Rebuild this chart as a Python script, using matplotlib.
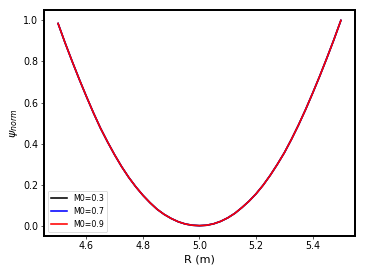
import matplotlib
matplotlib.use("Agg")
import matplotlib.pyplot as plt

R = [4.500, 4.525, 4.550, 4.575, 4.600, 4.625, 4.650, 4.675, 4.700, 4.725,
     4.750, 4.775, 4.800, 4.825, 4.850, 4.875, 4.900, 4.925, 4.950, 4.975,
     5.000, 5.025, 5.050, 5.075, 5.100, 5.125, 5.150, 5.175, 5.200, 5.225,
     5.250, 5.275, 5.300, 5.325, 5.350, 5.375, 5.400, 5.425, 5.450, 5.475, 5.500]
psi_m03 = [0.985, 0.890, 0.800, 0.713, 0.630, 0.550, 0.475, 0.408, 0.345, 0.287,
           0.235, 0.189, 0.148, 0.112, 0.080, 0.055, 0.035, 0.019, 0.008, 0.002,
           0.000, 0.002, 0.009, 0.021, 0.038, 0.060, 0.088, 0.119, 0.155, 0.197,
           0.245, 0.298, 0.355, 0.420, 0.490, 0.565, 0.645, 0.728, 0.815, 0.905, 1.000]
psi_m07 = list(psi_m03)
psi_m09 = list(psi_m03)
labels = ["M0=0.3", "M0=0.7", "M0=0.9"]
colors = ["black", "blue", "red"]

dpi = 57.19
fig = plt.figure(figsize=(366 / dpi, 274 / dpi), dpi=dpi)
ax = fig.add_subplot(111)
fig.subplots_adjust(left=0.12, right=0.97, top=0.963, bottom=0.139)

for ys, lab, c in zip([psi_m03, psi_m07, psi_m09], labels, colors):
    ax.plot(R, ys, color=c, lw=2, label=lab)

ax.set_xticks([4.6, 4.8, 5.0, 5.2, 5.4])
ax.set_yticks([0.0, 0.2, 0.4, 0.6, 0.8, 1.0])
ax.tick_params(labelsize=12)
for s in ax.spines.values():
    s.set_linewidth(2.5)
ax.set_xlabel("R (m)", fontsize=14)
ax.set_ylabel(r"$\psi_{norm}$", fontsize=14)
ax.legend(loc="lower left", fontsize=10)

fig.savefig("out.png", dpi=dpi)
